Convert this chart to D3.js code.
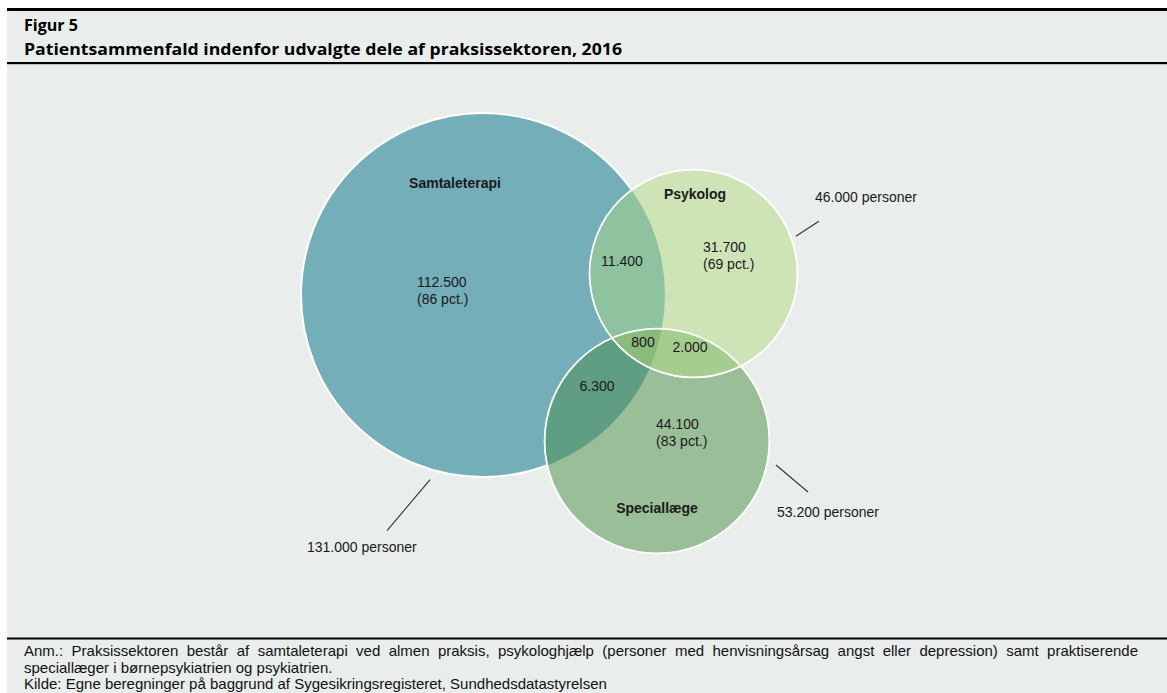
<!DOCTYPE html>
<html>
<head>
<meta charset="utf-8">
<script src="https://cdn.jsdelivr.net/npm/d3@7"></script>
<style>
  body { margin: 0; background: #fff; }
  svg { display: block; }
</style>
</head>
<body>
<div id="app"></div>
<script>

//
// Data
//

const sets = ['Samtaleterapi', 'Psykolog', 'Speciallæge']
const setTotals = [131000, 46000, 53200]

// regions of the diagram: which sets they belong to and how many persons
const regionSets = [['Samtaleterapi'], ['Psykolog'], ['Speciallæge'],
  ['Samtaleterapi', 'Psykolog'], ['Samtaleterapi', 'Speciallæge'],
  ['Psykolog', 'Speciallæge'], ['Samtaleterapi', 'Psykolog', 'Speciallæge']]
const regionValues = [112500, 31700, 44100, 11400, 6300, 2000, 800]
const regionPct = [86, 69, 83, null, null, null, null]

const figLabel = 'Figur 5'
const title = 'Patientsammenfald indenfor udvalgte dele af praksissektoren, 2016'
const noteLines = [
  'Anm.: Praksissektoren består af samtaleterapi ved almen praksis, psykologhjælp (personer med henvisningsårsag angst eller depression) samt praktiserende',
  'speciallæger i børnepsykiatrien og psykiatrien.',
  'Kilde: Egne beregninger på baggrund af Sygesikringsregisteret, Sundhedsdatastyrelsen'
]


//
// Constants
//

const width = 1167
const height = 693

const colors = {
  'Samtaleterapi': '#74aeb9',
  'Psykolog': '#cee4b7',
  'Speciallæge': '#9abf98',
  'Samtaleterapi|Psykolog': '#8fc3a0',
  'Samtaleterapi|Speciallæge': '#5f9e82',
  'Psykolog|Speciallæge': '#a6cd90',
  'Samtaleterapi|Psykolog|Speciallæge': '#8abb7e'
}

// venn layout: circle centres, leader lines and label anchors (pixels)
const layout = {
  'Samtaleterapi': { cx: 483, cy: 295, name: [455, 188], leader: { angle: 106, gap: 10, dx: -43, dy: 51 }, totalPos: [307, 552] },
  'Psykolog': { cx: 693.5, cy: 273.5, name: [695, 199], leader: { angle: -20, gap: 5, dx: 23, dy: -15 }, totalPos: [815, 202] },
  'Speciallæge': { cx: 657, cy: 441, name: [657, 513], leader: { angle: 11.4, gap: 9, dx: 32, dy: 27 }, totalPos: [777, 517] }
}
const regionLabelPos = [[417, 287, 'start'], [703, 252, 'start'], [656, 429, 'start'],
  [622, 266, 'middle'], [597, 391, 'middle'], [690, 352, 'middle'], [643, 347, 'middle']]


//
// Scales
//

const da = d3.formatLocale({ decimal: ',', thousands: '.', grouping: [3], currency: ['', ' kr.'] })
const fmt = da.format(',')

const rScale = d3.scalePow().exponent(0.535)
  .domain([0, d3.max(setTotals)])
  .range([0, 182])


//
// Chart
//

const svg = d3.select('#app').append('svg')
  .attr('width', width)
  .attr('height', height)

// frame
svg.append('rect').attr('x', 7).attr('y', 11).attr('width', width - 7).attr('height', height - 11).attr('fill', '#e9eeec')
svg.append('rect').attr('x', 7).attr('y', 8).attr('width', width - 7).attr('height', 3).attr('fill', '#000')
svg.append('rect').attr('x', 7).attr('y', 62).attr('width', width - 7).attr('height', 2.2).attr('fill', '#000')
svg.append('rect').attr('x', 7).attr('y', 637.5).attr('width', width - 7).attr('height', 2).attr('fill', '#000')

const headFont = "'Open Sans', 'Noto Sans', sans-serif"
svg.append('text').attr('x', 24).attr('y', 31)
  .attr('font-family', headFont).attr('font-weight', 700).attr('font-size', 15.5)
  .attr('textLength', 54).attr('lengthAdjust', 'spacingAndGlyphs')
  .text(figLabel)
svg.append('text').attr('x', 24).attr('y', 55)
  .attr('font-family', headFont).attr('font-weight', 700).attr('font-size', 15.5)
  .attr('textLength', 598).attr('lengthAdjust', 'spacingAndGlyphs')
  .text(title)

// circles
const circles = sets.map((s, i) => ({ set: s, total: setTotals[i], r: rScale(setTotals[i]), ...layout[s] }))
const byName = Object.fromEntries(circles.map(c => [c.set, c]))

const defs = svg.append('defs')
circles.forEach((c, i) => {
  defs.append('clipPath').attr('id', `clip${i}`)
    .append('circle').attr('cx', c.cx).attr('cy', c.cy).attr('r', c.r)
})
const clipId = s => `url(#clip${sets.indexOf(s)})`

const venn = svg.append('g')

// base circles, each filled with its "only" colour
venn.selectAll('circle.base').data(circles)
  .join('circle')
  .attr('class', 'base')
  .attr('cx', d => d.cx).attr('cy', d => d.cy).attr('r', d => d.r)
  .attr('fill', d => colors[d.set])
  .attr('stroke', (d, i) => i === 0 ? '#fff' : 'none')
  .attr('stroke-width', 2)

// overlaps: draw the last set's circle clipped by the other sets
regionSets.forEach(rs => {
  if (rs.length < 2) return
  let g = venn
  rs.slice(0, -1).forEach(s => { g = g.append('g').attr('clip-path', clipId(s)) })
  const c = byName[rs[rs.length - 1]]
  g.append('circle').attr('cx', c.cx).attr('cy', c.cy).attr('r', c.r)
    .attr('fill', colors[rs.join('|')])
})

// white outlines of the two smaller circles
venn.selectAll('circle.outline').data(circles.slice(1).reverse())
  .join('circle')
  .attr('class', 'outline')
  .attr('cx', d => d.cx).attr('cy', d => d.cy).attr('r', d => d.r)
  .attr('fill', 'none')
  .attr('stroke', '#fff')
  .attr('stroke-width', 1.8)

const labelFont = "'Liberation Sans', Arial, sans-serif"

// set names
svg.selectAll('text.setname').data(circles)
  .join('text')
  .attr('class', 'setname')
  .attr('x', d => d.name[0]).attr('y', d => d.name[1])
  .attr('text-anchor', 'middle')
  .attr('font-family', labelFont).attr('font-weight', 700).attr('font-size', 14)
  .attr('fill', '#1a1a1a')
  .text(d => d.set)

// region values
const regionText = svg.selectAll('text.region').data(regionValues.map((v, i) => ({ v, pct: regionPct[i], pos: regionLabelPos[i] })))
  .join('text')
  .attr('class', 'region')
  .attr('x', d => d.pos[0]).attr('y', d => d.pos[1])
  .attr('text-anchor', d => d.pos[2])
  .attr('font-family', labelFont).attr('font-size', 14)
  .attr('fill', '#1a1a1a')
regionText.append('tspan').text(d => fmt(d.v))
regionText.filter(d => d.pct != null).append('tspan')
  .attr('x', d => d.pos[0]).attr('dy', 16.5)
  .text(d => `(${d.pct} pct.)`)

// leader lines and totals
const rad = a => a * Math.PI / 180
const leaderStart = d => [d.cx + (d.r + d.leader.gap) * Math.cos(rad(d.leader.angle)), d.cy + (d.r + d.leader.gap) * Math.sin(rad(d.leader.angle))]
svg.selectAll('line.leader').data(circles)
  .join('line')
  .attr('class', 'leader')
  .attr('x1', d => leaderStart(d)[0]).attr('y1', d => leaderStart(d)[1])
  .attr('x2', d => leaderStart(d)[0] + d.leader.dx).attr('y2', d => leaderStart(d)[1] + d.leader.dy)
  .attr('stroke', '#333').attr('stroke-width', 1.1)

svg.selectAll('text.total').data(circles)
  .join('text')
  .attr('class', 'total')
  .attr('x', d => d.totalPos[0]).attr('y', d => d.totalPos[1])
  .attr('font-family', labelFont).attr('font-size', 14)
  .attr('fill', '#1a1a1a')
  .text(d => `${fmt(d.total)} personer`)

// footnote
const notes = svg.selectAll('text.note').data(noteLines)
  .join('text')
  .attr('class', 'note')
  .attr('x', 24).attr('y', (d, i) => 656 + i * 16.5)
  .attr('font-family', labelFont).attr('font-size', 15)
  .attr('fill', '#111')
  .text(d => d)

// first line is justified to the right edge of the text block (only stretched, never squeezed)
notes.filter((d, i) => i === 0).each(function(d) {
  const natural = this.getComputedTextLength()
  const gaps = d.split(' ').length - 1
  const extra = (1138 - 24 - natural) / gaps
  if (extra > 0) d3.select(this).attr('word-spacing', extra)
})

</script>
</body>
</html>
